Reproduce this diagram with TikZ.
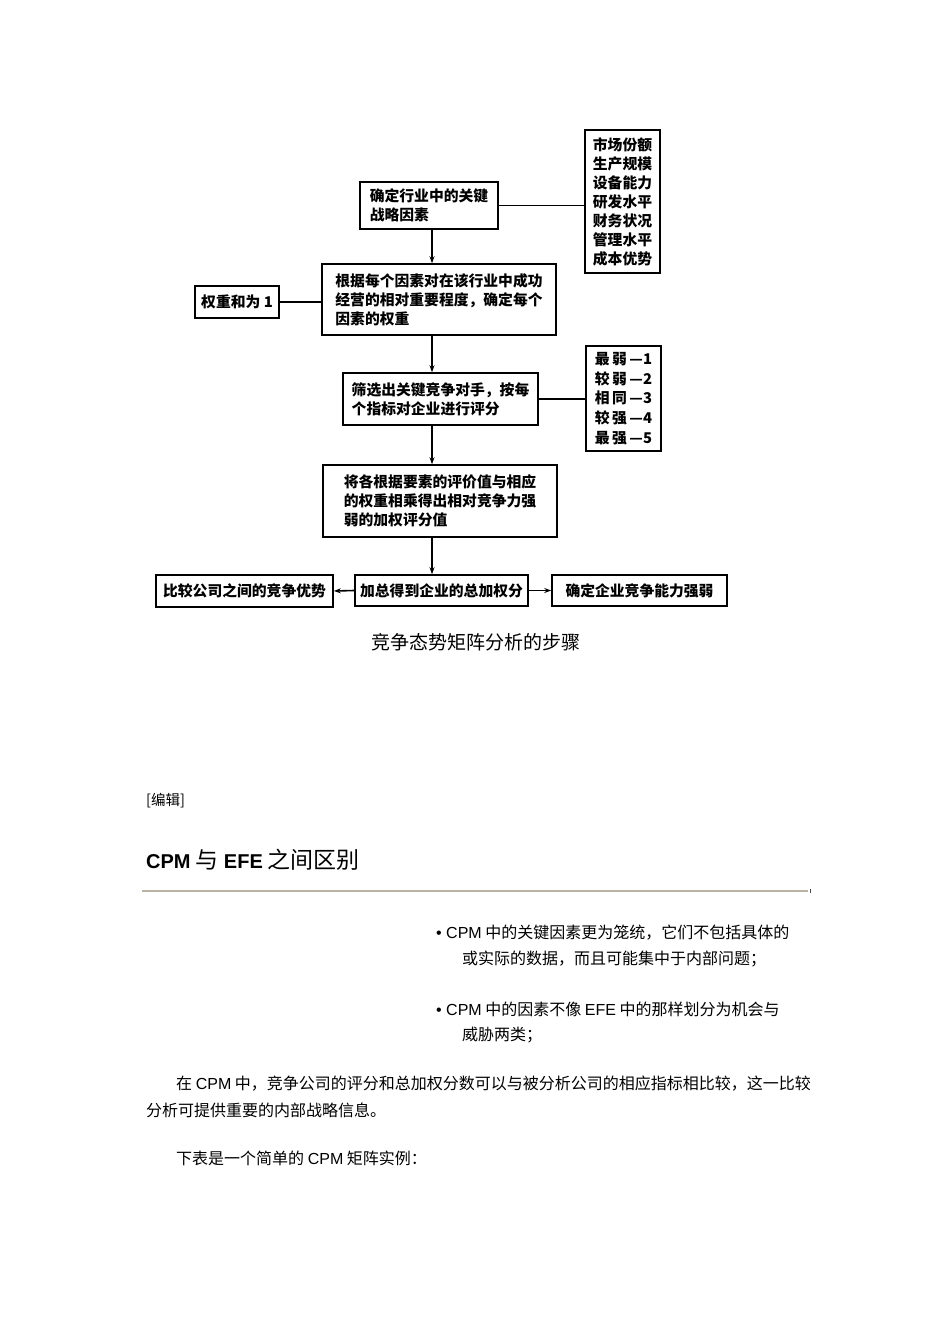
\documentclass[tikz,border=0pt]{standalone}
\usepackage{fontspec}
\setmainfont{Liberation Sans}
\newfontfamily\cjk{Noto Sans CJK SC}
\newcommand\ltn[1]{{\rmfamily #1}}
\definecolor{rulegray}{HTML}{B8B2A2}
\usetikzlibrary{arrows.meta}

\begin{document}
\begin{tikzpicture}[x=1pt, y=-1pt, >={Stealth[length=7pt,width=5pt]},
    box/.style={draw, line width=1.6pt, inner sep=0pt, align=left,
      font=\cjk\bfseries\fontsize{14.8}{19}\selectfont},
    link/.style={line width=1.6pt},
    body/.style={anchor=west, inner sep=0pt, font=\cjk\fontsize{16}{20}\selectfont}]
  \useasboundingbox (0,0) rectangle (950,1344);
  \coordinate (spine) at (432,0);

  % steps
  \node[box, minimum width=138pt, minimum height=47pt] (factors) at (429,205.5) {确定行业中的关键\\战略因素};
  \node[box, minimum width=234pt, minimum height=71pt] (weights) at (439,299.5) {根据每个因素对在该行业中成功\\经营的相对重要程度，确定每个\\因素的权重};
  \node[box, minimum width=195pt, minimum height=52pt] (rating) at (440.5,399) {筛选出关键竞争对手，按每\\个指标对企业进行评分};
  \node[box, minimum width=234pt, minimum height=72pt] (product) at (440,501) {将各根据要素的评价值与相应\\的权重相乘得出相对竞争力强\\弱的加权评分值};
  \node[box, minimum width=173pt, minimum height=31pt] (total) at (441.5,590.5) {加总得到企业的总加权分};

  % side notes
  \node[box, minimum width=75pt, minimum height=143pt] (factorlist) at (622.5,201.5) {市场份额\\生产规模\\设备能力\\研发水平\\财务状况\\管理水平\\成本优势};
  \node[box, minimum width=84pt, minimum height=32pt] (sumone) at (237,302) {权重和为 1};
  \node[box, minimum width=75pt, minimum height=105pt, font=\cjk\bfseries\fontsize{14.8}{19.7}\selectfont] (scale) at (623.5,398.5) {最\,弱\,—1\\较\,弱\,—2\\相\,同\,—3\\较\,强\,—4\\最\,强\,—5};
  \node[box, minimum width=177pt, minimum height=32pt] (compare) at (244.5,591) {比较公司之间的竞争优势};
  \node[box, minimum width=175pt, minimum height=31pt] (strength) at (639.5,590.5) {确定企业竞争能力强弱};

  \draw[link, ->] (spine |- factors.south) -- (spine |- weights.north);
  \draw[link, ->] (spine |- weights.south) -- (spine |- rating.north);
  \draw[link, ->] (spine |- rating.south) -- (spine |- product.north);
  \draw[link, ->] (spine |- product.south) -- (spine |- total.north);
  \draw[link] (factors.east) -- (factors.east -| factorlist.west);
  \draw[link] (sumone.east) -- (sumone.east -| weights.west);
  \draw[link] (rating.east) -- (rating.east -| scale.west);
  \draw[link, ->] (total.west) -- (compare.east);
  \draw[link, ->] (total.east) -- (strength.west);

  \node[font=\cjk\fontsize{19}{22}\selectfont] (caption) at (476,642) {竞争态势矩阵分析的步骤};

  % text below
  \node[body, font=\cjk\fontsize{14.5}{18}\selectfont] (edit) at (146,801) {[编辑]};
  \node[body, font=\cjk\fontsize{23}{26}\selectfont] (heading) at (146,860) {\ltn{\bfseries\fontsize{20}{24}\selectfont CPM} 与 \ltn{\bfseries\fontsize{20}{24}\selectfont EFE} 之间区别};
  \draw[line width=2pt, rulegray] (142,891) -- (808,891);
  \draw[line width=1pt, black!70] (810,889) -- (810,893);

  \node[body] (item1) at (436,933) {\ltn{• CPM} 中的关键因素更为笼统，它们不包括具体的};
  \node[body] (item1b) at (462,959) {或实际的数据，而且可能集中于内部问题；};
  \node[body] (item2) at (436,1009) {\ltn{• CPM} 中的因素不像 \ltn{EFE} 中的那样划分为机会与};
  \node[body] (item2b) at (462,1035) {威胁两类；};
  \node[body] (para1) at (176,1084) {在 \ltn{CPM} 中，竞争公司的评分和总加权分数可以与被分析公司的相应指标相比较，这一比较};
  \node[body] (para1b) at (146,1110) {分析可提供重要的内部战略信息。};
  \node[body] (para2) at (176,1158) {下表是一个简单的 \ltn{CPM} 矩阵实例：};
\end{tikzpicture}
\end{document}
